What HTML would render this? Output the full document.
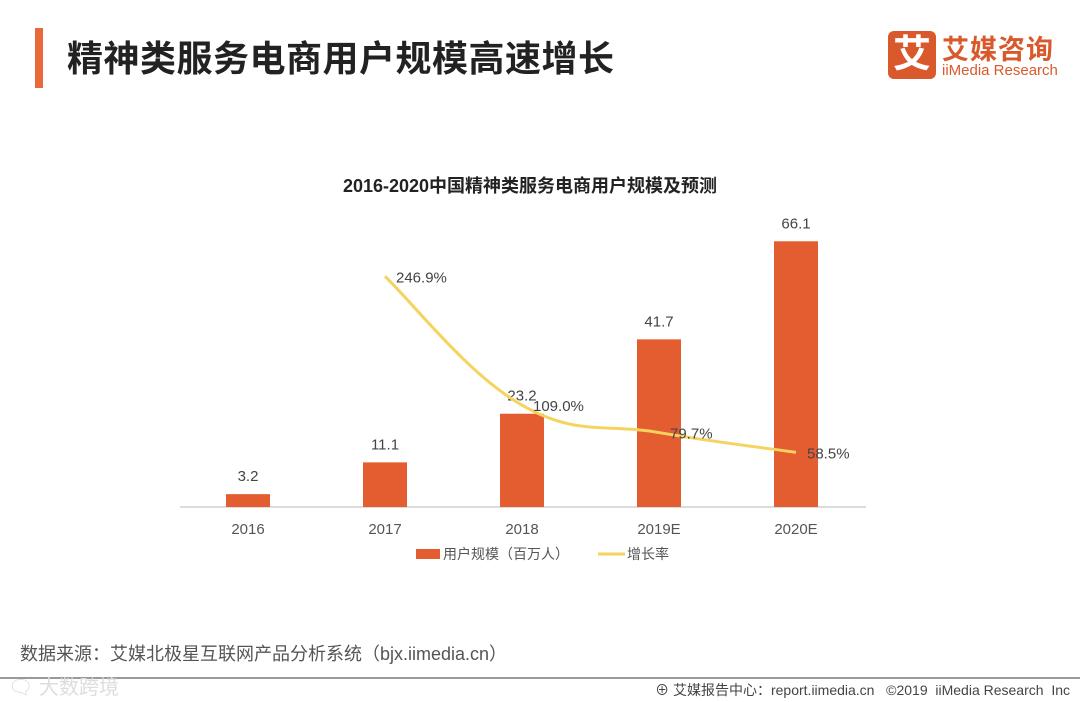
<!DOCTYPE html>
<html><head><meta charset="utf-8">
<style>
body{margin:0;width:1080px;height:702px;background:#fff;overflow:hidden;font-family:"Liberation Sans","Noto Sans CJK SC",sans-serif;position:relative}
.abs{position:absolute}
</style></head>
<body>
<div class="abs" style="left:35px;top:28px;width:8px;height:60px;background:#e8693a"></div>
<div class="abs" style="left:67px;top:30px;font-size:36px;font-weight:bold;color:#222;letter-spacing:0.5px;font-family:'Liberation Sans','Noto Sans CJK SC',sans-serif">精神类服务电商用户规模高速增长</div>
<div class="abs" style="left:888px;top:31px;width:186px;height:50px">
  <div style="position:absolute;left:0;top:0;width:48px;height:48px;background:#d9592c;border-radius:6px;color:#fff;font-size:38px;font-weight:bold;text-align:center;line-height:48px">艾</div>
  <div style="position:absolute;left:54px;top:-3px;font-size:27px;font-weight:bold;color:#d9592c;letter-spacing:1px">艾媒咨询</div>
  <div style="position:absolute;left:54px;top:31px;font-size:15px;color:#d9592c">iiMedia Research</div>
</div>
<div class="abs" style="left:0;width:1060px;top:172px;text-align:center;font-size:18px;font-weight:bold;color:#222">2016-2020中国精神类服务电商用户规模及预测</div>

<svg class="abs" style="left:0;top:0" width="1080" height="702" id="chart"></svg>

<div class="abs" style="left:20px;top:640px;font-size:18px;color:#555">数据来源：艾媒北极星互联网产品分析系统（bjx.iimedia.cn）</div>
<div class="abs" style="left:0;top:677px;width:1080px;height:2px;background:#999"></div>
<div class="abs" style="left:8px;top:671px;font-size:20px;color:#ddd">🗨 大数跨境</div>
<div class="abs" style="right:10px;top:680px;font-size:14px;color:#444">⊕ 艾媒报告中心：report.iimedia.cn &nbsp; ©2019 &nbsp;iiMedia Research &nbsp;Inc</div>

<script>
const categories=["2016","2017","2018","2019E","2020E"];
const users=[3.2,11.1,23.2,41.7,66.1];
const growthCats=["2017","2018","2019E","2020E"];
const growth=[246.9,109.0,79.7,58.5];
const svg=document.getElementById('chart');
const NS='http://www.w3.org/2000/svg';
const base=507,x0=248,step=137,barW=44;
const xPos=c=>x0+categories.indexOf(c)*step;
const yBar=v=>base-v*4.02;
const yLine=v=>base-v*0.934;
function mk(t,a){const e=document.createElementNS(NS,t);for(const k in a)e.setAttribute(k,a[k]);svg.appendChild(e);return e;}
let ax=mk('line',{x1:180,x2:866,y1:base,y2:base,stroke:'#d0d0d0','stroke-width':1.5});


categories.forEach((c,i)=>{
  const cx=xPos(c);
  const r=mk('rect',{x:cx-barW/2,y:yBar(users[i]),width:barW,height:base-yBar(users[i]),fill:'#e45d31'});
  
  
  const t=mk('text',{x:cx,y:yBar(users[i])-13,'text-anchor':'middle','font-size':15,fill:'#444','font-family':'Liberation Sans, sans-serif'});
  t.textContent=users[i];
  
  
  const tk=mk('text',{x:cx,y:534,'text-anchor':'middle','font-size':15,fill:'#555','font-family':'Liberation Sans, sans-serif'});
  tk.textContent=c;
  
  
});
const pts=growthCats.map((c,i)=>[xPos(c),yLine(growth[i])]);
let d='M'+pts[0][0]+','+pts[0][1];
for(let i=0;i<pts.length-1;i++){
  const p0=pts[i-1]||pts[i],p1=pts[i],p2=pts[i+1],p3=pts[i+2]||p2;
  const t=0.2;
  const c1=[p1[0]+(p2[0]-p0[0])*t,p1[1]+(p2[1]-p0[1])*t];
  const c2=[p2[0]-(p3[0]-p1[0])*t,p2[1]-(p3[1]-p1[1])*t];
  d+=' C'+c1+' '+c2+' '+p2;
}
const ln=mk('path',{d:d,fill:'none',stroke:'#f4d35e','stroke-width':3});


pts.forEach((p,i)=>{
  const t=mk('text',{x:p[0]+11,y:p[1]+6,'font-size':15,fill:'#444','font-family':'Liberation Sans, sans-serif'});
  t.textContent=growth[i].toFixed(1)+'%';
  
  
});
const lg1=mk('rect',{x:416,y:549,width:24,height:10,fill:'#e45d31'});


const lt1=mk('text',{x:443,y:559,'font-size':14,fill:'#555','font-family':'Liberation Sans, Noto Sans CJK SC, sans-serif'});
lt1.textContent='用户规模（百万人）';


const lg2=mk('line',{x1:598,x2:625,y1:554,y2:554,stroke:'#f4d35e','stroke-width':3});


const lt2=mk('text',{x:627,y:559,'font-size':14,fill:'#555','font-family':'Liberation Sans, Noto Sans CJK SC, sans-serif'});
lt2.textContent='增长率';


</script>
</body></html>
